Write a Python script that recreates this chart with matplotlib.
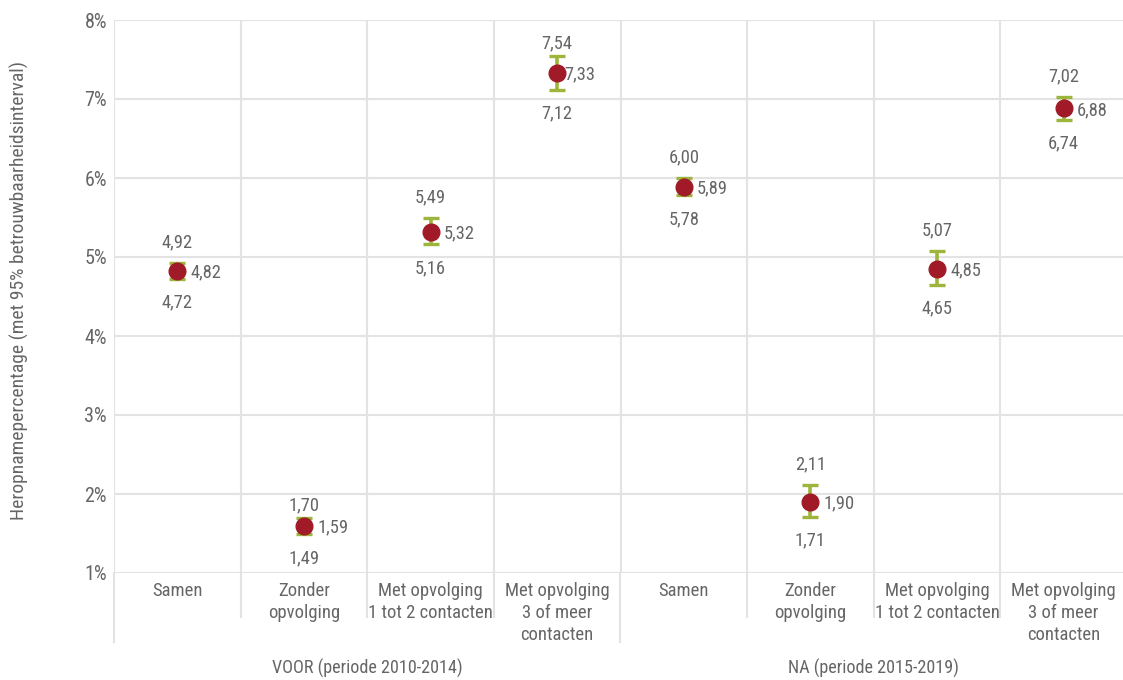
import matplotlib
matplotlib.use("Agg")
import matplotlib.pyplot as plt
from matplotlib import font_manager
from matplotlib.lines import Line2D

# Readmission rates with 95% confidence intervals
categories = [
    "Samen", "Zonder\nopvolging", "Met opvolging\n1 tot 2 contacten", "Met opvolging\n3 of meer\ncontacten",
    "Samen", "Zonder\nopvolging", "Met opvolging\n1 tot 2 contacten", "Met opvolging\n3 of meer\ncontacten",
]
periods = ["VOOR (periode 2010-2014)", "NA (periode 2015-2019)"]
mean = [4.82, 1.59, 5.32, 7.33, 5.89, 1.90, 4.85, 6.88]
lower = [4.72, 1.49, 5.16, 7.12, 5.78, 1.71, 4.65, 6.74]
upper = [4.92, 1.70, 5.49, 7.54, 6.00, 2.11, 5.07, 7.02]
y_ticks = [1, 2, 3, 4, 5, 6, 7, 8]
y_label = "Heropnamepercentage (met 95% betrouwbaarheidsinterval)"

available = {f.name for f in font_manager.fontManager.ttflist}
family = next((f for f in ["Roboto Condensed", "Liberation Sans Narrow", "Roboto"] if f in available), "DejaVu Sans")
plt.rcParams["font.family"] = [family, "DejaVu Sans"]

TEXT = "#666666"
GRID = "#e3e3e3"
DOT = "#a01a28"
BAR = "#9db53a"

W, H = 1123, 680
fig = plt.figure(figsize=(W / 100, H / 100), dpi=100)
ax = fig.add_axes([114 / W, (H - 573) / H, (1127 - 114) / W, (573 - 20) / H])

n = len(categories)
x = list(range(n))
ax.set_xlim(-0.5, n - 0.5)
ax.set_ylim(1, 8)

# grid
for t in y_ticks:
    ax.axhline(t, color=GRID, lw=1.5, zorder=0)
for k in range(n + 1):
    ax.axvline(k - 0.5, color=GRID, lw=1.5, zorder=0)

for s in ax.spines.values():
    s.set_visible(False)
ax.set_xticks([])
ax.set_yticks(y_ticks)
ax.set_yticklabels([f"{t}%" for t in y_ticks], color=TEXT, fontsize=14.5)
ax.tick_params(axis="y", length=0, pad=5)

# confidence intervals and points
yerr = [[m - lo for m, lo in zip(mean, lower)], [up - m for m, up in zip(mean, upper)]]
ax.errorbar(x, mean, yerr=yerr, fmt="none", ecolor=BAR, elinewidth=2.6,
            capsize=6, capthick=2.4, zorder=2)
ax.plot(x, mean, "o", color=DOT, markersize=12, zorder=3, mec=DOT)

# value labels: upper bound above, lower bound below, estimate to the right
up_pad = [15, 9, 15, 9, 15, 15, 15, 15]
mid_pad = [9.5, 9.5, 9.5, 5, 9.5, 9.5, 9.5, 9.5]
fmt = lambda v: f"{v:.2f}".replace(".", ",")
for i, (xi, m, lo, up) in enumerate(zip(x, mean, lower, upper)):
    ax.annotate(fmt(up), (xi, up), xytext=(0, up_pad[i]), textcoords="offset points",
                ha="center", va="center", color=TEXT, fontsize=13.3)
    ax.annotate(fmt(lo), (xi, lo), xytext=(0, -17), textcoords="offset points",
                ha="center", va="center", color=TEXT, fontsize=13.3)
    ax.annotate(fmt(m), (xi, m), xytext=(mid_pad[i], -1), textcoords="offset points",
                ha="left", va="center", color=TEXT, fontsize=13.3)


def fig_y(py):
    return (H - py) / H


def fig_x(xd):
    return fig.transFigure.inverted().transform(ax.transData.transform((xd, 1)))[0]


# category labels below the plot
for xi, lab in zip(x, categories):
    fig.text(fig_x(xi), fig_y(582), lab, ha="center", va="top", color=TEXT,
             fontsize=13.4, linespacing=1.27)

for k in range(n + 1):
    bottom = 642 if k % 4 == 0 else 617
    xf = fig_x(k - 0.5)
    fig.add_artist(Line2D([xf, xf], [fig_y(573), fig_y(bottom)], color=GRID, lw=1.5))

for gi, name in enumerate(periods):
    fig.text(fig_x(gi * 4 + 1.5), fig_y(668), name, ha="center", va="center",
             color=TEXT, fontsize=13.1)

fig.text(19 / W, fig_y(290), y_label, rotation=90, ha="center", va="center",
         color=TEXT, fontsize=14)

fig.savefig("out.png", dpi=100)
